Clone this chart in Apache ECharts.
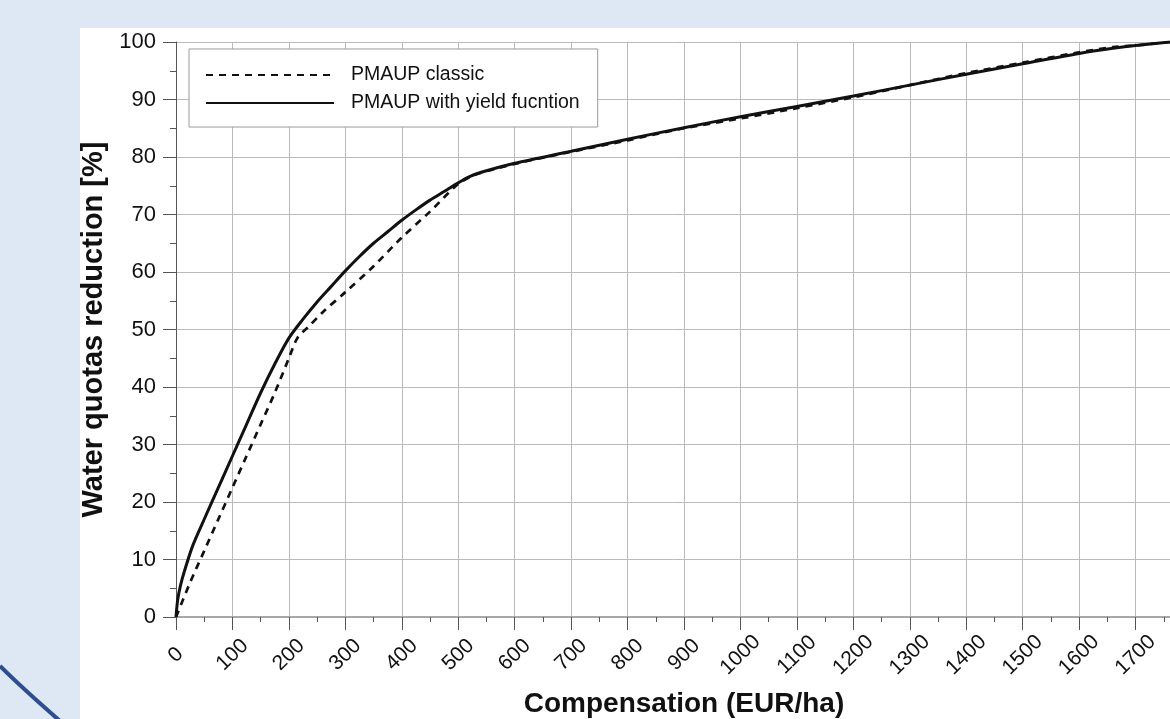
<!DOCTYPE html>
<html>
<head>
<meta charset="utf-8">
<script src="https://cdn.jsdelivr.net/npm/echarts@6/dist/echarts.min.js"></script>
<style>
html,body{margin:0;padding:0;background:#dde8f4;}
#chart{width:1170px;height:719px;}
</style>
</head>
<body>
<div id="chart"></div>
<script>
// ---- data ----
const seriesNames = ['PMAUP classic', 'PMAUP with yield fucntion'];
const xTitle = 'Compensation (EUR/ha)';
const yTitle = 'Water quotas reduction [%]';

// PMAUP classic (dashed)
const classicComp = [0, 25, 50, 75, 100, 125, 150, 175, 200, 215, 235, 260, 300, 350, 400, 450, 500, 530, 600, 700, 800, 900, 1000, 1100, 1200, 1300, 1400, 1500, 1600, 1660, 1700, 1780];
const classicRed  = [0, 6, 11.5, 17, 22.5, 28, 33.5, 39, 45, 48.5, 50.5, 53, 56.5, 61, 66, 70.5, 75.3, 76.9, 78.8, 80.9, 82.9, 85, 86.7, 88.5, 90.4, 92.5, 94.6, 96.4, 98.2, 99.1, 99.4, 100.2];

// PMAUP with yield function (solid)
const yieldComp = [0, 3, 8, 15, 30, 50, 75, 100, 125, 150, 175, 200, 225, 250, 275, 300, 325, 350, 375, 400, 425, 450, 475, 500, 520, 550, 600, 700, 800, 900, 1000, 1100, 1200, 1300, 1400, 1500, 1600, 1660, 1700, 1780];
const yieldRed  = [0, 3, 5.5, 8, 12.5, 17, 22.5, 28, 33.5, 39, 44, 48.5, 51.8, 54.8, 57.5, 60.2, 62.7, 65, 67, 69, 70.8, 72.5, 74, 75.5, 76.6, 77.6, 78.9, 81, 83.1, 85.1, 87, 88.8, 90.6, 92.5, 94.4, 96.2, 98, 98.9, 99.4, 100.2];

const xMin = 0, xMax = 1800, xStep = 100;
const yMin = 0, yMax = 100, yStep = 10;

const pairs = (xs, ys) => xs.map((x, i) => [x, ys[i]]);
const FONT = "'Liberation Sans', Arial, sans-serif";

const chart = echarts.init(document.getElementById('chart'));
chart.setOption({
  backgroundColor: '#dde8f4',
  animation: false,
  graphic: [
    { type: 'rect', z: -10, shape: { x: 80, y: 28, width: 1100, height: 700 }, style: { fill: '#ffffff' } },
    { type: 'bezierCurve', z: -10, shape: { x1: 0, y1: 666, x2: 60, y2: 721, cpx1: 22, cpy1: 688 }, style: { stroke: '#2c4e8e', lineWidth: 4, fill: null } }
  ],
  grid: { left: 176, top: 42, right: -22, bottom: 102, containLabel: false, outerBoundsMode: 'none' },
  legend: {
    orient: 'vertical',
    left: 189, top: 49,
    padding: [16, 18, 14, 16],
    itemGap: 8,
    itemWidth: 128,
    itemHeight: 2,
    backgroundColor: '#ffffff',
    borderColor: '#999999',
    borderWidth: 1,
    borderRadius: 0,
    itemStyle: { opacity: 0, color: 'rgba(0,0,0,0)', borderWidth: 0 },
    textStyle: { fontFamily: FONT, fontSize: 19.5, color: '#111', lineHeight: 20, padding: [0, 0, 0, 12] },
    data: seriesNames
  },
  xAxis: {
    type: 'value', min: xMin, max: xMax, interval: xStep,
    name: xTitle, nameLocation: 'middle', nameGap: 73,
    nameTextStyle: { fontFamily: FONT, fontSize: 28, fontWeight: 'bold', color: '#111' },
    axisLine: { show: true, onZero: false, lineStyle: { color: '#a8a8a8', width: 2 } },
    axisTick: { show: true, length: 13, lineStyle: { color: '#555' } },
    minorTick: { show: true, splitNumber: 2, length: 5, lineStyle: { color: '#555' } },
    axisLabel: {
      rotate: 44, align: 'center', verticalAlign: 'middle', margin: 38,
      fontFamily: FONT, fontSize: 21, color: '#111', showMaxLabel: true, hideOverlap: false,
      formatter: v => String(v)
    },
    splitLine: { show: true, lineStyle: { color: '#bababa', width: 1 } }
  },
  yAxis: {
    type: 'value', min: yMin, max: yMax, interval: yStep,
    name: yTitle, nameLocation: 'middle', nameGap: 66, nameRotate: 90,
    nameTextStyle: { fontFamily: FONT, fontSize: 29, fontWeight: 'bold', color: '#111' },
    axisLine: { show: true, onZero: false, lineStyle: { color: '#555', width: 1 } },
    axisTick: { show: true, length: 13, lineStyle: { color: '#555' } },
    minorTick: { show: true, splitNumber: 2, length: 6, lineStyle: { color: '#555' } },
    axisLabel: { fontFamily: FONT, fontSize: 22, color: '#111', margin: 20 },
    splitLine: { show: true, lineStyle: { color: '#bababa', width: 1 } }
  },
  series: [
    {
      name: seriesNames[0], type: 'line', data: pairs(classicComp, classicRed),
      symbol: 'none', smooth: 0.3, z: 3,
      lineStyle: { color: '#111', width: 2.7, type: [7, 6] },
      itemStyle: { color: '#111' }
    },
    {
      name: seriesNames[1], type: 'line', data: pairs(yieldComp, yieldRed),
      symbol: 'none', smooth: 0.3, z: 4,
      lineStyle: { color: '#111', width: 3, type: 'solid' },
      itemStyle: { color: '#111' }
    }
  ]
});
</script>
</body>
</html>
